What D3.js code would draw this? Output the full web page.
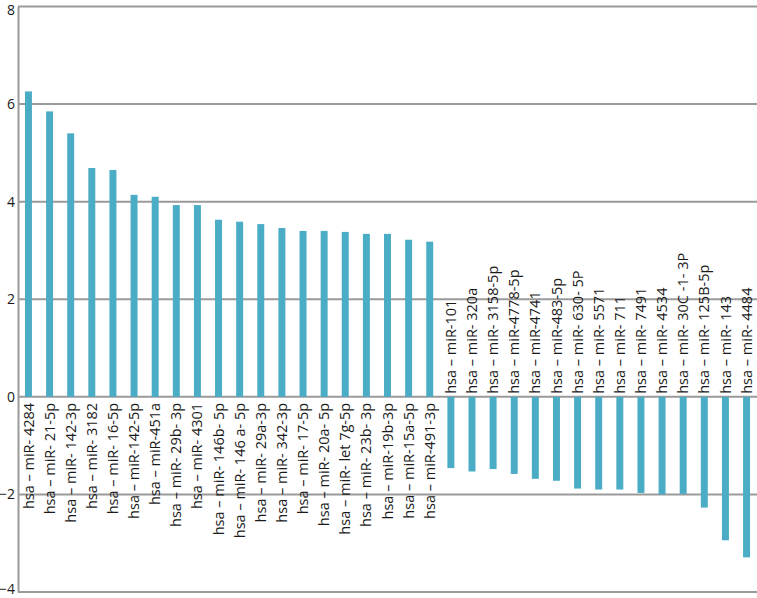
<!DOCTYPE html>
<html>
<head>
<meta charset="utf-8">
<script src="https://cdn.jsdelivr.net/npm/d3@7"></script>
<style>
  body { margin: 0; background: #fff; }
  svg { display: block; font-family: "Open Sans", "Noto Sans", sans-serif; }
</style>
</head>
<body>
<svg width="757" height="598"></svg>
<script>
// categories (positive then negative)
const categories = [
  "hsa – miR- 4284", "hsa – miR- 21-5p", "hsa – miR- 142-3p", "hsa – miR- 3182",
  "hsa – miR- 16-5p", "hsa – miR-142-5p", "hsa – miR-451a", "hsa – miR- 29b- 3p",
  "hsa – miR- 4301", "hsa – miR- 146b- 5p", "hsa – miR- 146 a- 5p", "hsa – miR- 29a-3p",
  "hsa – miR- 342-3p", "hsa – miR- 17-5p", "hsa – miR- 20a- 5p", "hsa – miR- let 7g-5p",
  "hsa – miR- 23b- 3p", "hsa – miR-19b-3p", "hsa – miR-15a-5p", "hsa – miR-491-3p",
  "hsa – miR-101", "hsa – miR- 320a", "hsa – miR- 3158-5p", "hsa – miR-4778-5p",
  "hsa – miR-4741", "hsa – miR-483-5p", "hsa – miR- 630- 5P", "hsa – miR- 5571",
  "hsa – miR- 711", "hsa – miR- 7491", "hsa – miR- 4534", "hsa – miR- 30C -1- 3P",
  "hsa – miR- 125B-5p", "hsa – miR- 143", "hsa – miR- 4484"
];

const values = [
  6.26, 5.85, 5.40, 4.69, 4.65, 4.14, 4.10, 3.93, 3.93, 3.63,
  3.59, 3.54, 3.46, 3.40, 3.40, 3.38, 3.34, 3.34, 3.22, 3.18,
  -1.46, -1.53, -1.48, -1.58, -1.68, -1.72, -1.88, -1.90, -1.90, -1.97,
  -2.00, -1.99, -2.27, -2.94, -3.29
];

const yTicks = [-4, -2, 0, 2, 4, 6, 8];

const data = categories.map((c, i) => ({ name: c, value: values[i] }));

const svg = d3.select("svg");
const mLeft = 18, mRight = 757, mTop = 6.5, mBottom = 592;

const x = d3.scaleBand()
  .domain(categories)
  .range([mLeft, mRight])
  .paddingInner(0.67)
  .paddingOuter(0.33);

const y = d3.scaleLinear()
  .domain([-4, 8])
  .range([mBottom, mTop]);

// gridlines
svg.append("g")
  .selectAll("line")
  .data(yTicks)
  .enter()
  .append("line")
  .attr("x1", mLeft)
  .attr("x2", mRight)
  .attr("y1", d => y(d))
  .attr("y2", d => y(d))
  .attr("stroke", "#9a9a9a")
  .attr("stroke-width", 2);

// y axis
const yAxis = d3.axisLeft(y).tickValues(yTicks).tickSize(0).tickPadding(3);
const ga = svg.append("g")
  .attr("transform", "translate(" + mLeft + ",0)")
  .call(yAxis);
ga.select(".domain").attr("stroke", "#9a9a9a").attr("stroke-width", 2);
ga.selectAll("text")
  .attr("font-size", 14)
  .attr("fill", "#1a1a1a")
  .attr("dy", d => d === 8 ? "0.55em" : (d === -4 ? "0.1em" : "0.32em"))
  .style("font-family", "'Open Sans', sans-serif");

// bars
svg.append("g")
  .selectAll("rect")
  .data(data)
  .enter()
  .append("rect")
  .attr("x", d => x(d.name))
  .attr("width", x.bandwidth())
  .attr("y", d => y(Math.max(0, d.value)))
  .attr("height", d => Math.abs(y(d.value) - y(0)))
  .attr("fill", "#4bacc6");

// category labels, rotated
svg.append("g")
  .selectAll("text")
  .data(data)
  .enter()
  .append("text")
  .attr("transform", function(d) {
    const cx = x(d.name) + x.bandwidth() / 2;
    const ty = d.value >= 0 ? y(0) + 6 : y(0) - 3;
    return "translate(" + cx + "," + ty + ") rotate(-90)";
  })
  .attr("text-anchor", d => d.value >= 0 ? "end" : "start")
  .attr("dy", "0.35em")
  .attr("font-size", 14.5)
  .attr("fill", "#1a1a1a")
  .text(d => d.name);
</script>
</body>
</html>
